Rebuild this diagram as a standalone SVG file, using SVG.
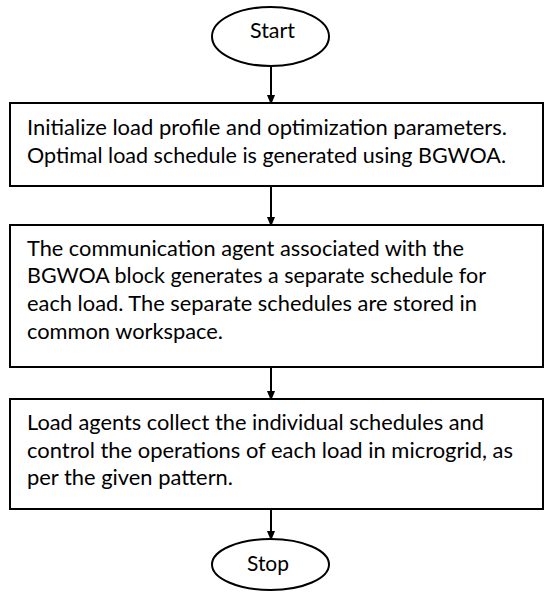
<svg xmlns="http://www.w3.org/2000/svg" width="550" height="599" viewBox="0 0 550 599">
<defs>
<marker id="ah" markerWidth="10" markerHeight="12" refX="10" refY="5" orient="auto" markerUnits="userSpaceOnUse" viewBox="0 0 12 10">
<path d="M0,0 L12,5 L0,10 z" fill="#000"/>
</marker>
<style>
.shape{fill:#fff;stroke:#000;stroke-width:2}
.t{font-family:Lato,"Liberation Sans",sans-serif;font-size:22px;fill:#000}
.c{stroke:#000;stroke-width:2;fill:none}
</style>
</defs>
<rect width="550" height="599" fill="#fff"/>
<g id="connectors">
<line class="c" x1="271" y1="66" x2="271" y2="103" marker-end="url(#ah)"/>
<line class="c" x1="271" y1="186" x2="271" y2="225" marker-end="url(#ah)"/>
<line class="c" x1="271" y1="367" x2="271" y2="399" marker-end="url(#ah)"/>
<line class="c" x1="271" y1="509" x2="271" y2="539" marker-end="url(#ah)"/>
</g>
<g id="start">
<ellipse class="shape" cx="270.5" cy="36.5" rx="58.5" ry="29.5"/>
<text class="t" x="250" y="38" textLength="45" lengthAdjust="spacingAndGlyphs">Start</text>
</g>
<g id="step1">
<rect class="shape" x="10" y="103" width="533" height="83"/>
<text class="t" x="27" y="135" textLength="480" lengthAdjust="spacingAndGlyphs">Initialize load profile and optimization parameters.</text>
<text class="t" x="27" y="163" textLength="479" lengthAdjust="spacingAndGlyphs">Optimal load schedule is generated using BGWOA.</text>
</g>
<g id="step2">
<rect class="shape" x="10" y="225" width="533" height="142"/>
<text class="t" x="27" y="256" textLength="437" lengthAdjust="spacingAndGlyphs">The communication agent associated with the</text>
<text class="t" x="27" y="283" textLength="459" lengthAdjust="spacingAndGlyphs">BGWOA block generates a separate schedule for</text>
<text class="t" x="27" y="311" textLength="450" lengthAdjust="spacingAndGlyphs">each load. The separate schedules are stored in</text>
<text class="t" x="27" y="339" textLength="196" lengthAdjust="spacingAndGlyphs">common workspace.</text>
</g>
<g id="step3">
<rect class="shape" x="10" y="399" width="533" height="110"/>
<text class="t" x="27" y="430" textLength="457" lengthAdjust="spacingAndGlyphs">Load agents collect the individual schedules and</text>
<text class="t" x="27" y="458" textLength="486" lengthAdjust="spacingAndGlyphs">control the operations of each load in microgrid, as</text>
<text class="t" x="27" y="485" textLength="206" lengthAdjust="spacingAndGlyphs">per the given pattern.</text>
</g>
<g id="stop">
<ellipse class="shape" cx="270.5" cy="564.5" rx="58.5" ry="25.5"/>
<text class="t" x="247" y="571" textLength="42" lengthAdjust="spacingAndGlyphs">Stop</text>
</g>
</svg>
